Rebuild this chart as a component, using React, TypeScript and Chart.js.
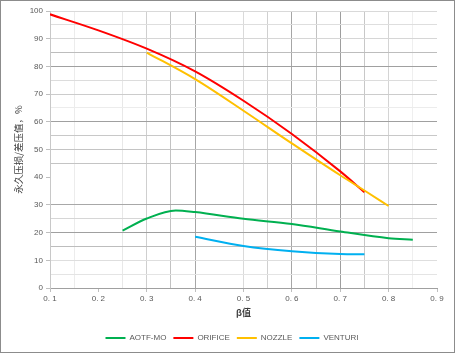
import React, { useEffect, useRef } from 'react';
import { Chart, registerables } from 'chart.js';

Chart.register(...registerables);

// ---- data ----
const seriesNames = ['AOTF-MO', 'ORIFICE', 'NOZZLE', 'VENTURI'];
const seriesColors = ['#00b050', '#ff0000', '#ffc000', '#00b0f0'];

const aotfBeta = [0.25, 0.3, 0.36, 0.4, 0.5, 0.6, 0.7, 0.8, 0.85];
const aotfLoss = [20.7, 25.1, 28.0, 27.4, 25.0, 23.1, 20.4, 18.0, 17.4];

const orificeBeta = [0.1, 0.2, 0.3, 0.4, 0.5, 0.6, 0.7, 0.75];
const orificeLoss = [98.8, 93.0, 86.4, 78.2, 67.6, 55.6, 42.1, 34.6];

const nozzleBeta = [0.3, 0.4, 0.5, 0.6, 0.7, 0.75, 0.8];
const nozzleLoss = [85.0, 75.4, 64.0, 52.2, 40.7, 35.2, 29.6];

const venturiBeta = [0.4, 0.5, 0.6, 0.7, 0.75];
const venturiLoss = [18.5, 15.2, 13.3, 12.3, 12.2];

const xTickLabels = ['0. 1', '0. 2', '0. 3', '0. 4', '0. 5', '0. 6', '0. 7', '0. 8', '0. 9'];
const yTickLabels = ['0', '10', '20', '30', '40', '50', '60', '70', '80', '90', '100'];

const xTitle = 'β值';
const yTitle = '永久压损/差压值，%';

// ---- styles ----
const xGridColors: Record<number, string> = {
  2: 'rgba(0,0,0,0)', 3: '#ececec', 4: 'rgba(0,0,0,0)', 5: '#e8e8e8', 6: '#cfcfcf',
  7: '#c2c2c2', 8: '#a6a6a6', 9: 'rgba(0,0,0,0)', 10: '#dadada', 11: '#d0d0d0',
  12: '#a6a6a6', 13: '#c2c2c2', 14: '#9e9e9e', 15: '#c8c8c8', 16: '#d4d4d4',
  17: '#efefef', 18: 'rgba(0,0,0,0)',
};
const yGridColors: Record<number, string> = {
  0: 'rgba(0,0,0,0)', 1: '#e4e4e4', 2: '#dedede', 3: '#bdbdbd', 4: '#a0a0a0',
  5: '#d6d6d6', 6: '#a8a8a8', 7: 'rgba(0,0,0,0)', 8: 'rgba(0,0,0,0)', 9: '#c4c4c4',
  10: '#c4c4c4', 11: '#c8c8c8', 12: '#a0a0a0', 13: '#ececec', 14: '#cccccc',
  15: '#dcdcdc', 16: '#a0a0a0', 17: '#bdbdbd', 18: '#d6d6d6', 19: '#dedede', 20: '#d9d9d9',
};

const toPoints = (xs: number[], ys: number[]) => xs.map((x, i) => ({ x, y: ys[i] }));

const legendShift = {
  id: 'legendShift',
  afterLayout(chart: any) {
    if (chart.legend) {
      chart.legend.left += 13;
      chart.legend.right += 13;
    }
  },
};

export default function App() {
  const canvasRef = useRef<HTMLCanvasElement | null>(null);

  useEffect(() => {
    if (!canvasRef.current) return;
    const seriesData = [
      toPoints(aotfBeta, aotfLoss),
      toPoints(orificeBeta, orificeLoss),
      toPoints(nozzleBeta, nozzleLoss),
      toPoints(venturiBeta, venturiLoss),
    ];
    const tickFont = { family: "'Liberation Sans', Arial, sans-serif", size: 8 };
    const chart = new Chart(canvasRef.current, {
      type: 'line',
      plugins: [legendShift],
      data: {
        datasets: seriesNames.map((name, i) => ({
          label: name,
          data: seriesData[i],
          borderColor: seriesColors[i],
          backgroundColor: seriesColors[i],
          borderWidth: 2,
          pointRadius: 0,
          pointHoverRadius: 0,
          pointStyle: 'line',
          cubicInterpolationMode: 'monotone',
          fill: false,
          order: 4 - i,
        })),
      },
      options: {
        animation: false,
        responsive: true,
        maintainAspectRatio: false,
        layout: { padding: { top: 10, right: 17, bottom: 0, left: 0 } },
        plugins: {
          tooltip: { enabled: false },
          legend: {
            position: 'bottom',
            labels: {
              usePointStyle: true,
              pointStyleWidth: 20,
              boxHeight: 8,
              padding: 7,
              color: '#595959',
              font: tickFont,
              sort: (a: any, b: any) => a.datasetIndex - b.datasetIndex,
            },
          },
        },
        scales: {
          x: {
            type: 'linear',
            min: 0.1,
            max: 0.9,
            afterFit: (scale: any) => { scale.height = 39; },
            ticks: {
              stepSize: 0.05,
              autoSkip: false,
              maxRotation: 0,
              padding: 2,
              color: '#595959',
              font: tickFont,
              callback: (v: any) => {
                const k = Math.round(Number(v) * 20);
                return k % 2 === 0 ? xTickLabels[k / 2 - 1] : '';
              },
            },
            grid: {
              lineWidth: 1,
              tickLength: 4,
              color: (ctx: any) => xGridColors[Math.round(ctx.tick.value * 20)] || 'rgba(0,0,0,0)',
              tickColor: (ctx: any) => (Math.round(ctx.tick.value * 20) % 2 === 0 ? '#bfbfbf' : 'rgba(0,0,0,0)'),
            },
            border: { display: true, color: '#a0a0a0', width: 1 },
            title: {
              display: true,
              text: xTitle,
              color: '#404040',
              font: { family: "'Noto Sans CJK SC', sans-serif", size: 9, weight: 'bold' },
              padding: { top: 0, bottom: 9 },
            },
          },
          y: {
            type: 'linear',
            min: 0,
            max: 100,
            afterFit: (scale: any) => { scale.width = 49; },
            ticks: {
              stepSize: 5,
              autoSkip: false,
              padding: 3,
              color: '#595959',
              font: tickFont,
              callback: (v: any) => {
                const n = Math.round(Number(v));
                return n % 10 === 0 ? yTickLabels[n / 10] : '';
              },
            },
            grid: {
              lineWidth: 1,
              tickLength: 4,
              color: (ctx: any) => yGridColors[Math.round(ctx.tick.value / 5)] || 'rgba(0,0,0,0)',
              tickColor: (ctx: any) => (Math.round(ctx.tick.value) % 10 === 0 ? '#bfbfbf' : 'rgba(0,0,0,0)'),
            },
            border: { display: true, color: '#c8c8c8', width: 1 },
            title: {
              display: true,
              text: yTitle,
              color: '#404040',
              font: { family: "'Noto Sans CJK SC', sans-serif", size: 9.5 },
              padding: { top: 12, bottom: 0 },
            },
          },
        },
      },
    } as any);
    return () => chart.destroy();
  }, []);

  return (
    <div
      style={{
        position: 'fixed',
        left: 0,
        top: 0,
        width: 455,
        height: 353,
        boxSizing: 'border-box',
        border: '1px solid #8c8c8c',
        background: '#ffffff',
      }}
    >
      <canvas ref={canvasRef} style={{ display: 'block', width: 453, height: 351 }} />
    </div>
  );
}
